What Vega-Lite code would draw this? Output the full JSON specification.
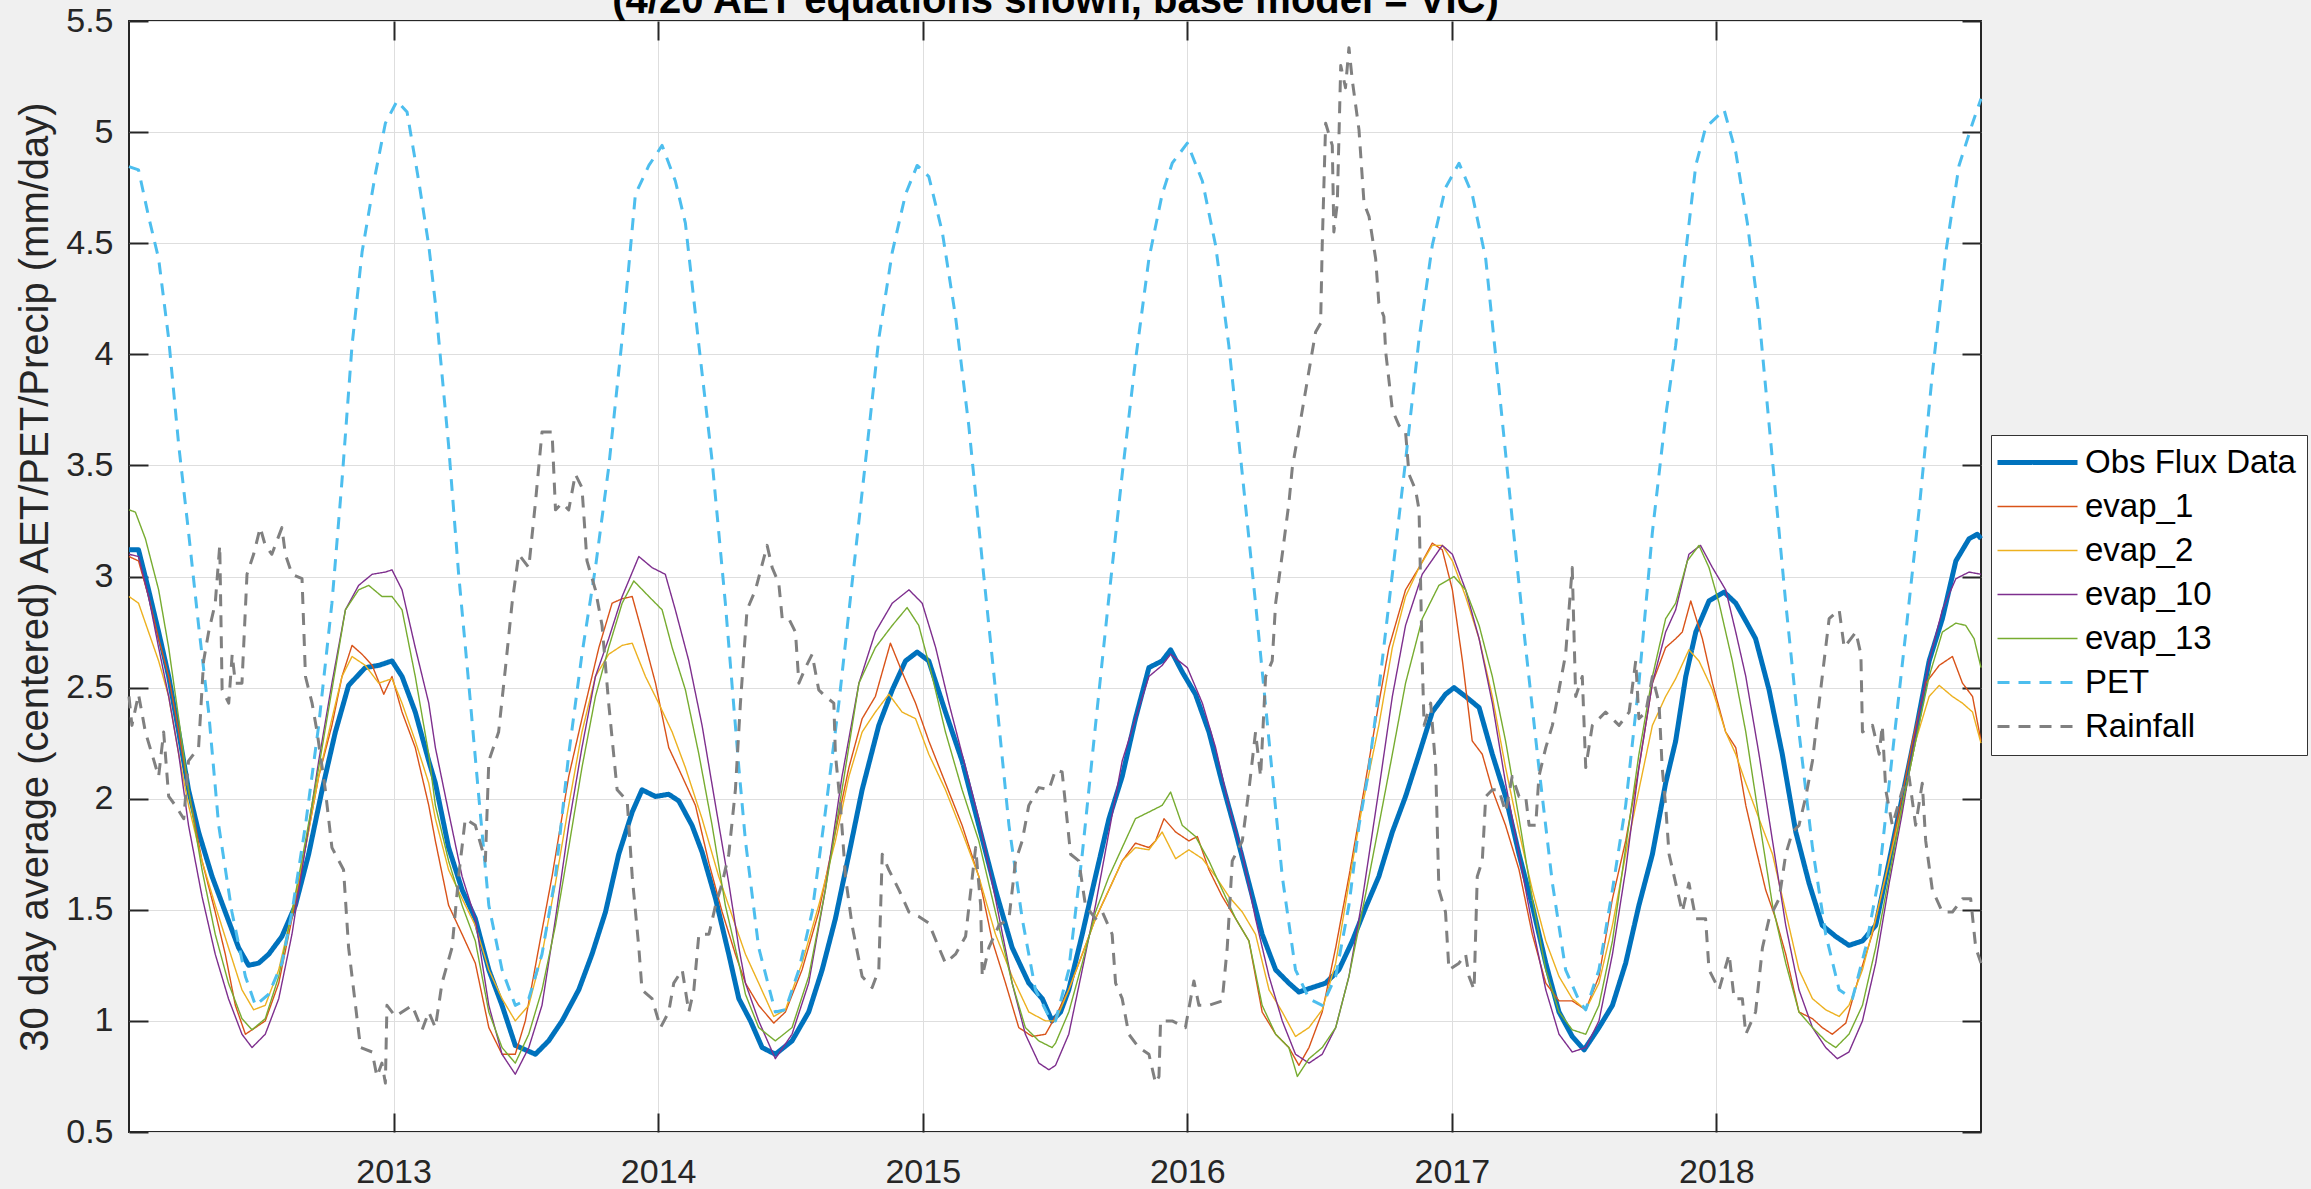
{
"$schema": "https://vega.github.io/schema/vega-lite/v6.json",
"width": 1852, "height": 1111,
"autosize": {"type": "none"},
"padding": {"left": 129, "top": 21, "right": 330, "bottom": 57},
"background": "#f0f0f0",
"config": {
  "view": {"fill": "white", "stroke": "#262626", "strokeWidth": 2},
  "axis": {"labelFont": "Liberation Sans", "labelFontSize": 34, "labelColor": "#262626", "tickColor": "#262626", "tickWidth": 2, "tickSize": -19, "domain": false, "gridColor": "#dedede", "gridWidth": 1, "labelOverlap": false, "labelFlush": false, "titleFont": "Liberation Sans", "titleFontWeight": "normal", "titleColor": "#262626"}
},
"datasets": {
"d": [
{"s":"Obs Flux Data","t":2012.0,"v":3.12},{"s":"Obs Flux Data","t":2012.036,"v":3.12},{"s":"Obs Flux Data","t":2012.074,"v":2.94},{"s":"Obs Flux Data","t":2012.112,"v":2.75},{"s":"Obs Flux Data","t":2012.15,"v":2.55},{"s":"Obs Flux Data","t":2012.188,"v":2.30},{"s":"Obs Flux Data","t":2012.225,"v":2.04},{"s":"Obs Flux Data","t":2012.263,"v":1.85},{"s":"Obs Flux Data","t":2012.314,"v":1.65},{"s":"Obs Flux Data","t":2012.364,"v":1.49},{"s":"Obs Flux Data","t":2012.414,"v":1.33},{"s":"Obs Flux Data","t":2012.452,"v":1.25},{"s":"Obs Flux Data","t":2012.49,"v":1.26},{"s":"Obs Flux Data","t":2012.528,"v":1.30},{"s":"Obs Flux Data","t":2012.578,"v":1.38},{"s":"Obs Flux Data","t":2012.629,"v":1.52},{"s":"Obs Flux Data","t":2012.679,"v":1.75},{"s":"Obs Flux Data","t":2012.73,"v":2.04},{"s":"Obs Flux Data","t":2012.78,"v":2.30},{"s":"Obs Flux Data","t":2012.83,"v":2.51},{"s":"Obs Flux Data","t":2012.893,"v":2.59},{"s":"Obs Flux Data","t":2012.944,"v":2.60},{"s":"Obs Flux Data","t":2012.994,"v":2.62},{"s":"Obs Flux Data","t":2013.032,"v":2.55},{"s":"Obs Flux Data","t":2013.082,"v":2.39},{"s":"Obs Flux Data","t":2013.133,"v":2.17},{"s":"Obs Flux Data","t":2013.158,"v":2.07},{"s":"Obs Flux Data","t":2013.208,"v":1.78},{"s":"Obs Flux Data","t":2013.259,"v":1.59},{"s":"Obs Flux Data","t":2013.309,"v":1.46},{"s":"Obs Flux Data","t":2013.36,"v":1.23},{"s":"Obs Flux Data","t":2013.41,"v":1.07},{"s":"Obs Flux Data","t":2013.46,"v":0.89},{"s":"Obs Flux Data","t":2013.536,"v":0.85},{"s":"Obs Flux Data","t":2013.586,"v":0.91},{"s":"Obs Flux Data","t":2013.637,"v":1.0},{"s":"Obs Flux Data","t":2013.7,"v":1.14},{"s":"Obs Flux Data","t":2013.75,"v":1.30},{"s":"Obs Flux Data","t":2013.801,"v":1.49},{"s":"Obs Flux Data","t":2013.851,"v":1.75},{"s":"Obs Flux Data","t":2013.902,"v":1.94},{"s":"Obs Flux Data","t":2013.939,"v":2.04},{"s":"Obs Flux Data","t":2013.99,"v":2.01},{"s":"Obs Flux Data","t":2014.04,"v":2.02},{"s":"Obs Flux Data","t":2014.078,"v":1.99},{"s":"Obs Flux Data","t":2014.128,"v":1.88},{"s":"Obs Flux Data","t":2014.166,"v":1.76},{"s":"Obs Flux Data","t":2014.217,"v":1.55},{"s":"Obs Flux Data","t":2014.267,"v":1.30},{"s":"Obs Flux Data","t":2014.305,"v":1.10},{"s":"Obs Flux Data","t":2014.349,"v":1.0},{"s":"Obs Flux Data","t":2014.393,"v":0.88},{"s":"Obs Flux Data","t":2014.443,"v":0.85},{"s":"Obs Flux Data","t":2014.506,"v":0.91},{"s":"Obs Flux Data","t":2014.569,"v":1.04},{"s":"Obs Flux Data","t":2014.62,"v":1.23},{"s":"Obs Flux Data","t":2014.67,"v":1.46},{"s":"Obs Flux Data","t":2014.721,"v":1.75},{"s":"Obs Flux Data","t":2014.771,"v":2.04},{"s":"Obs Flux Data","t":2014.834,"v":2.33},{"s":"Obs Flux Data","t":2014.885,"v":2.49},{"s":"Obs Flux Data","t":2014.935,"v":2.62},{"s":"Obs Flux Data","t":2014.979,"v":2.66},{"s":"Obs Flux Data","t":2015.023,"v":2.62},{"s":"Obs Flux Data","t":2015.086,"v":2.39},{"s":"Obs Flux Data","t":2015.149,"v":2.17},{"s":"Obs Flux Data","t":2015.212,"v":1.88},{"s":"Obs Flux Data","t":2015.275,"v":1.59},{"s":"Obs Flux Data","t":2015.338,"v":1.33},{"s":"Obs Flux Data","t":2015.401,"v":1.17},{"s":"Obs Flux Data","t":2015.452,"v":1.10},{"s":"Obs Flux Data","t":2015.489,"v":1.0},{"s":"Obs Flux Data","t":2015.521,"v":1.04},{"s":"Obs Flux Data","t":2015.552,"v":1.14},{"s":"Obs Flux Data","t":2015.603,"v":1.39},{"s":"Obs Flux Data","t":2015.653,"v":1.65},{"s":"Obs Flux Data","t":2015.704,"v":1.91},{"s":"Obs Flux Data","t":2015.754,"v":2.10},{"s":"Obs Flux Data","t":2015.804,"v":2.36},{"s":"Obs Flux Data","t":2015.855,"v":2.59},{"s":"Obs Flux Data","t":2015.905,"v":2.62},{"s":"Obs Flux Data","t":2015.937,"v":2.67},{"s":"Obs Flux Data","t":2015.981,"v":2.57},{"s":"Obs Flux Data","t":2016.031,"v":2.47},{"s":"Obs Flux Data","t":2016.082,"v":2.30},{"s":"Obs Flux Data","t":2016.132,"v":2.07},{"s":"Obs Flux Data","t":2016.183,"v":1.85},{"s":"Obs Flux Data","t":2016.233,"v":1.62},{"s":"Obs Flux Data","t":2016.283,"v":1.39},{"s":"Obs Flux Data","t":2016.334,"v":1.23},{"s":"Obs Flux Data","t":2016.384,"v":1.17},{"s":"Obs Flux Data","t":2016.422,"v":1.13},{"s":"Obs Flux Data","t":2016.472,"v":1.15},{"s":"Obs Flux Data","t":2016.523,"v":1.17},{"s":"Obs Flux Data","t":2016.573,"v":1.23},{"s":"Obs Flux Data","t":2016.624,"v":1.36},{"s":"Obs Flux Data","t":2016.674,"v":1.51},{"s":"Obs Flux Data","t":2016.724,"v":1.65},{"s":"Obs Flux Data","t":2016.775,"v":1.85},{"s":"Obs Flux Data","t":2016.825,"v":2.01},{"s":"Obs Flux Data","t":2016.876,"v":2.20},{"s":"Obs Flux Data","t":2016.926,"v":2.39},{"s":"Obs Flux Data","t":2016.976,"v":2.47},{"s":"Obs Flux Data","t":2017.008,"v":2.50},{"s":"Obs Flux Data","t":2017.052,"v":2.46},{"s":"Obs Flux Data","t":2017.103,"v":2.41},{"s":"Obs Flux Data","t":2017.153,"v":2.20},{"s":"Obs Flux Data","t":2017.203,"v":2.01},{"s":"Obs Flux Data","t":2017.254,"v":1.75},{"s":"Obs Flux Data","t":2017.304,"v":1.52},{"s":"Obs Flux Data","t":2017.355,"v":1.26},{"s":"Obs Flux Data","t":2017.405,"v":1.04},{"s":"Obs Flux Data","t":2017.455,"v":0.93},{"s":"Obs Flux Data","t":2017.5,"v":0.87},{"s":"Obs Flux Data","t":2017.556,"v":0.97},{"s":"Obs Flux Data","t":2017.607,"v":1.07},{"s":"Obs Flux Data","t":2017.657,"v":1.26},{"s":"Obs Flux Data","t":2017.707,"v":1.52},{"s":"Obs Flux Data","t":2017.758,"v":1.75},{"s":"Obs Flux Data","t":2017.808,"v":2.07},{"s":"Obs Flux Data","t":2017.846,"v":2.26},{"s":"Obs Flux Data","t":2017.884,"v":2.55},{"s":"Obs Flux Data","t":2017.922,"v":2.75},{"s":"Obs Flux Data","t":2017.972,"v":2.89},{"s":"Obs Flux Data","t":2018.029,"v":2.93},{"s":"Obs Flux Data","t":2018.073,"v":2.88},{"s":"Obs Flux Data","t":2018.111,"v":2.80},{"s":"Obs Flux Data","t":2018.148,"v":2.72},{"s":"Obs Flux Data","t":2018.199,"v":2.49},{"s":"Obs Flux Data","t":2018.249,"v":2.20},{"s":"Obs Flux Data","t":2018.3,"v":1.85},{"s":"Obs Flux Data","t":2018.35,"v":1.62},{"s":"Obs Flux Data","t":2018.4,"v":1.43},{"s":"Obs Flux Data","t":2018.451,"v":1.38},{"s":"Obs Flux Data","t":2018.501,"v":1.34},{"s":"Obs Flux Data","t":2018.552,"v":1.36},{"s":"Obs Flux Data","t":2018.602,"v":1.43},{"s":"Obs Flux Data","t":2018.653,"v":1.72},{"s":"Obs Flux Data","t":2018.703,"v":2.01},{"s":"Obs Flux Data","t":2018.753,"v":2.30},{"s":"Obs Flux Data","t":2018.804,"v":2.62},{"s":"Obs Flux Data","t":2018.854,"v":2.81},{"s":"Obs Flux Data","t":2018.905,"v":3.07},{"s":"Obs Flux Data","t":2018.955,"v":3.17},{"s":"Obs Flux Data","t":2018.986,"v":3.19},{"s":"Obs Flux Data","t":2019.0,"v":3.17},
{"s":"evap_1","t":2012.0,"v":3.09},{"s":"evap_1","t":2012.036,"v":3.07},{"s":"evap_1","t":2012.074,"v":2.91},{"s":"evap_1","t":2012.112,"v":2.72},{"s":"evap_1","t":2012.15,"v":2.55},{"s":"evap_1","t":2012.188,"v":2.30},{"s":"evap_1","t":2012.225,"v":2.04},{"s":"evap_1","t":2012.276,"v":1.72},{"s":"evap_1","t":2012.326,"v":1.49},{"s":"evap_1","t":2012.364,"v":1.30},{"s":"evap_1","t":2012.402,"v":1.07},{"s":"evap_1","t":2012.44,"v":0.94},{"s":"evap_1","t":2012.478,"v":0.97},{"s":"evap_1","t":2012.515,"v":1.0},{"s":"evap_1","t":2012.566,"v":1.17},{"s":"evap_1","t":2012.616,"v":1.46},{"s":"evap_1","t":2012.667,"v":1.78},{"s":"evap_1","t":2012.717,"v":2.10},{"s":"evap_1","t":2012.767,"v":2.33},{"s":"evap_1","t":2012.805,"v":2.55},{"s":"evap_1","t":2012.843,"v":2.69},{"s":"evap_1","t":2012.881,"v":2.65},{"s":"evap_1","t":2012.919,"v":2.60},{"s":"evap_1","t":2012.963,"v":2.47},{"s":"evap_1","t":2012.994,"v":2.55},{"s":"evap_1","t":2013.032,"v":2.39},{"s":"evap_1","t":2013.082,"v":2.23},{"s":"evap_1","t":2013.133,"v":1.97},{"s":"evap_1","t":2013.158,"v":1.81},{"s":"evap_1","t":2013.208,"v":1.52},{"s":"evap_1","t":2013.259,"v":1.39},{"s":"evap_1","t":2013.309,"v":1.26},{"s":"evap_1","t":2013.36,"v":0.97},{"s":"evap_1","t":2013.41,"v":0.85},{"s":"evap_1","t":2013.46,"v":0.85},{"s":"evap_1","t":2013.498,"v":1.0},{"s":"evap_1","t":2013.549,"v":1.33},{"s":"evap_1","t":2013.599,"v":1.65},{"s":"evap_1","t":2013.662,"v":2.10},{"s":"evap_1","t":2013.712,"v":2.36},{"s":"evap_1","t":2013.776,"v":2.68},{"s":"evap_1","t":2013.826,"v":2.88},{"s":"evap_1","t":2013.864,"v":2.90},{"s":"evap_1","t":2013.902,"v":2.91},{"s":"evap_1","t":2013.939,"v":2.75},{"s":"evap_1","t":2013.99,"v":2.52},{"s":"evap_1","t":2014.04,"v":2.23},{"s":"evap_1","t":2014.091,"v":2.10},{"s":"evap_1","t":2014.141,"v":1.97},{"s":"evap_1","t":2014.192,"v":1.71},{"s":"evap_1","t":2014.242,"v":1.49},{"s":"evap_1","t":2014.292,"v":1.30},{"s":"evap_1","t":2014.33,"v":1.17},{"s":"evap_1","t":2014.38,"v":1.07},{"s":"evap_1","t":2014.437,"v":0.99},{"s":"evap_1","t":2014.481,"v":1.04},{"s":"evap_1","t":2014.544,"v":1.23},{"s":"evap_1","t":2014.607,"v":1.49},{"s":"evap_1","t":2014.67,"v":1.85},{"s":"evap_1","t":2014.721,"v":2.14},{"s":"evap_1","t":2014.771,"v":2.36},{"s":"evap_1","t":2014.821,"v":2.46},{"s":"evap_1","t":2014.859,"v":2.62},{"s":"evap_1","t":2014.878,"v":2.70},{"s":"evap_1","t":2014.922,"v":2.57},{"s":"evap_1","t":2014.973,"v":2.43},{"s":"evap_1","t":2015.023,"v":2.26},{"s":"evap_1","t":2015.086,"v":2.07},{"s":"evap_1","t":2015.149,"v":1.88},{"s":"evap_1","t":2015.212,"v":1.65},{"s":"evap_1","t":2015.263,"v":1.36},{"s":"evap_1","t":2015.313,"v":1.17},{"s":"evap_1","t":2015.363,"v":0.97},{"s":"evap_1","t":2015.414,"v":0.93},{"s":"evap_1","t":2015.464,"v":0.94},{"s":"evap_1","t":2015.502,"v":1.02},{"s":"evap_1","t":2015.552,"v":1.14},{"s":"evap_1","t":2015.603,"v":1.30},{"s":"evap_1","t":2015.653,"v":1.46},{"s":"evap_1","t":2015.704,"v":1.59},{"s":"evap_1","t":2015.754,"v":1.72},{"s":"evap_1","t":2015.804,"v":1.80},{"s":"evap_1","t":2015.855,"v":1.78},{"s":"evap_1","t":2015.88,"v":1.81},{"s":"evap_1","t":2015.912,"v":1.91},{"s":"evap_1","t":2015.956,"v":1.85},{"s":"evap_1","t":2016.006,"v":1.81},{"s":"evap_1","t":2016.038,"v":1.83},{"s":"evap_1","t":2016.082,"v":1.68},{"s":"evap_1","t":2016.132,"v":1.56},{"s":"evap_1","t":2016.183,"v":1.46},{"s":"evap_1","t":2016.233,"v":1.36},{"s":"evap_1","t":2016.283,"v":1.04},{"s":"evap_1","t":2016.334,"v":0.94},{"s":"evap_1","t":2016.384,"v":0.88},{"s":"evap_1","t":2016.422,"v":0.80},{"s":"evap_1","t":2016.46,"v":0.88},{"s":"evap_1","t":2016.51,"v":1.04},{"s":"evap_1","t":2016.561,"v":1.33},{"s":"evap_1","t":2016.611,"v":1.65},{"s":"evap_1","t":2016.668,"v":2.04},{"s":"evap_1","t":2016.724,"v":2.43},{"s":"evap_1","t":2016.762,"v":2.68},{"s":"evap_1","t":2016.825,"v":2.94},{"s":"evap_1","t":2016.876,"v":3.04},{"s":"evap_1","t":2016.926,"v":3.15},{"s":"evap_1","t":2016.964,"v":3.12},{"s":"evap_1","t":2017.002,"v":2.94},{"s":"evap_1","t":2017.04,"v":2.62},{"s":"evap_1","t":2017.077,"v":2.26},{"s":"evap_1","t":2017.115,"v":2.20},{"s":"evap_1","t":2017.153,"v":2.04},{"s":"evap_1","t":2017.203,"v":1.88},{"s":"evap_1","t":2017.254,"v":1.68},{"s":"evap_1","t":2017.304,"v":1.39},{"s":"evap_1","t":2017.355,"v":1.17},{"s":"evap_1","t":2017.405,"v":1.09},{"s":"evap_1","t":2017.455,"v":1.09},{"s":"evap_1","t":2017.506,"v":1.05},{"s":"evap_1","t":2017.556,"v":1.20},{"s":"evap_1","t":2017.607,"v":1.55},{"s":"evap_1","t":2017.657,"v":1.81},{"s":"evap_1","t":2017.707,"v":2.14},{"s":"evap_1","t":2017.758,"v":2.52},{"s":"evap_1","t":2017.808,"v":2.68},{"s":"evap_1","t":2017.846,"v":2.72},{"s":"evap_1","t":2017.871,"v":2.75},{"s":"evap_1","t":2017.903,"v":2.89},{"s":"evap_1","t":2017.947,"v":2.72},{"s":"evap_1","t":2017.985,"v":2.52},{"s":"evap_1","t":2018.035,"v":2.30},{"s":"evap_1","t":2018.073,"v":2.23},{"s":"evap_1","t":2018.111,"v":1.97},{"s":"evap_1","t":2018.148,"v":1.78},{"s":"evap_1","t":2018.186,"v":1.59},{"s":"evap_1","t":2018.224,"v":1.46},{"s":"evap_1","t":2018.262,"v":1.30},{"s":"evap_1","t":2018.312,"v":1.04},{"s":"evap_1","t":2018.363,"v":1.01},{"s":"evap_1","t":2018.4,"v":0.97},{"s":"evap_1","t":2018.438,"v":0.94},{"s":"evap_1","t":2018.489,"v":0.99},{"s":"evap_1","t":2018.539,"v":1.20},{"s":"evap_1","t":2018.589,"v":1.39},{"s":"evap_1","t":2018.64,"v":1.65},{"s":"evap_1","t":2018.69,"v":1.94},{"s":"evap_1","t":2018.741,"v":2.26},{"s":"evap_1","t":2018.791,"v":2.52},{"s":"evap_1","t":2018.842,"v":2.60},{"s":"evap_1","t":2018.892,"v":2.64},{"s":"evap_1","t":2018.93,"v":2.52},{"s":"evap_1","t":2018.968,"v":2.46},{"s":"evap_1","t":2019.0,"v":2.26},
{"s":"evap_2","t":2012.0,"v":2.91},{"s":"evap_2","t":2012.036,"v":2.88},{"s":"evap_2","t":2012.074,"v":2.75},{"s":"evap_2","t":2012.112,"v":2.62},{"s":"evap_2","t":2012.15,"v":2.46},{"s":"evap_2","t":2012.188,"v":2.20},{"s":"evap_2","t":2012.225,"v":1.97},{"s":"evap_2","t":2012.276,"v":1.72},{"s":"evap_2","t":2012.326,"v":1.52},{"s":"evap_2","t":2012.376,"v":1.33},{"s":"evap_2","t":2012.427,"v":1.14},{"s":"evap_2","t":2012.471,"v":1.05},{"s":"evap_2","t":2012.515,"v":1.07},{"s":"evap_2","t":2012.566,"v":1.23},{"s":"evap_2","t":2012.616,"v":1.49},{"s":"evap_2","t":2012.667,"v":1.78},{"s":"evap_2","t":2012.717,"v":2.10},{"s":"evap_2","t":2012.767,"v":2.36},{"s":"evap_2","t":2012.805,"v":2.55},{"s":"evap_2","t":2012.843,"v":2.64},{"s":"evap_2","t":2012.893,"v":2.60},{"s":"evap_2","t":2012.944,"v":2.52},{"s":"evap_2","t":2012.994,"v":2.54},{"s":"evap_2","t":2013.032,"v":2.43},{"s":"evap_2","t":2013.082,"v":2.26},{"s":"evap_2","t":2013.133,"v":2.07},{"s":"evap_2","t":2013.158,"v":1.91},{"s":"evap_2","t":2013.208,"v":1.68},{"s":"evap_2","t":2013.259,"v":1.55},{"s":"evap_2","t":2013.309,"v":1.43},{"s":"evap_2","t":2013.36,"v":1.23},{"s":"evap_2","t":2013.41,"v":1.10},{"s":"evap_2","t":2013.46,"v":1.0},{"s":"evap_2","t":2013.511,"v":1.07},{"s":"evap_2","t":2013.561,"v":1.30},{"s":"evap_2","t":2013.612,"v":1.62},{"s":"evap_2","t":2013.662,"v":1.97},{"s":"evap_2","t":2013.712,"v":2.30},{"s":"evap_2","t":2013.763,"v":2.55},{"s":"evap_2","t":2013.813,"v":2.65},{"s":"evap_2","t":2013.864,"v":2.69},{"s":"evap_2","t":2013.902,"v":2.70},{"s":"evap_2","t":2013.952,"v":2.55},{"s":"evap_2","t":2014.002,"v":2.43},{"s":"evap_2","t":2014.053,"v":2.30},{"s":"evap_2","t":2014.103,"v":2.14},{"s":"evap_2","t":2014.166,"v":1.91},{"s":"evap_2","t":2014.229,"v":1.65},{"s":"evap_2","t":2014.292,"v":1.43},{"s":"evap_2","t":2014.33,"v":1.30},{"s":"evap_2","t":2014.38,"v":1.17},{"s":"evap_2","t":2014.437,"v":1.02},{"s":"evap_2","t":2014.481,"v":1.05},{"s":"evap_2","t":2014.544,"v":1.26},{"s":"evap_2","t":2014.607,"v":1.52},{"s":"evap_2","t":2014.67,"v":1.81},{"s":"evap_2","t":2014.721,"v":2.10},{"s":"evap_2","t":2014.771,"v":2.30},{"s":"evap_2","t":2014.821,"v":2.39},{"s":"evap_2","t":2014.872,"v":2.47},{"s":"evap_2","t":2014.922,"v":2.39},{"s":"evap_2","t":2014.973,"v":2.36},{"s":"evap_2","t":2015.023,"v":2.20},{"s":"evap_2","t":2015.086,"v":2.04},{"s":"evap_2","t":2015.149,"v":1.85},{"s":"evap_2","t":2015.212,"v":1.65},{"s":"evap_2","t":2015.275,"v":1.39},{"s":"evap_2","t":2015.338,"v":1.20},{"s":"evap_2","t":2015.401,"v":1.04},{"s":"evap_2","t":2015.464,"v":1.0},{"s":"evap_2","t":2015.502,"v":1.0},{"s":"evap_2","t":2015.552,"v":1.14},{"s":"evap_2","t":2015.603,"v":1.30},{"s":"evap_2","t":2015.653,"v":1.46},{"s":"evap_2","t":2015.704,"v":1.59},{"s":"evap_2","t":2015.754,"v":1.72},{"s":"evap_2","t":2015.804,"v":1.78},{"s":"evap_2","t":2015.855,"v":1.77},{"s":"evap_2","t":2015.905,"v":1.85},{"s":"evap_2","t":2015.956,"v":1.73},{"s":"evap_2","t":2016.006,"v":1.77},{"s":"evap_2","t":2016.057,"v":1.73},{"s":"evap_2","t":2016.107,"v":1.65},{"s":"evap_2","t":2016.157,"v":1.56},{"s":"evap_2","t":2016.208,"v":1.49},{"s":"evap_2","t":2016.258,"v":1.39},{"s":"evap_2","t":2016.309,"v":1.14},{"s":"evap_2","t":2016.359,"v":1.04},{"s":"evap_2","t":2016.409,"v":0.93},{"s":"evap_2","t":2016.46,"v":0.97},{"s":"evap_2","t":2016.51,"v":1.05},{"s":"evap_2","t":2016.561,"v":1.26},{"s":"evap_2","t":2016.611,"v":1.62},{"s":"evap_2","t":2016.662,"v":1.97},{"s":"evap_2","t":2016.724,"v":2.33},{"s":"evap_2","t":2016.775,"v":2.68},{"s":"evap_2","t":2016.825,"v":2.91},{"s":"evap_2","t":2016.876,"v":3.04},{"s":"evap_2","t":2016.926,"v":3.14},{"s":"evap_2","t":2016.964,"v":3.14},{"s":"evap_2","t":2017.002,"v":3.07},{"s":"evap_2","t":2017.052,"v":2.91},{"s":"evap_2","t":2017.103,"v":2.72},{"s":"evap_2","t":2017.153,"v":2.46},{"s":"evap_2","t":2017.203,"v":2.14},{"s":"evap_2","t":2017.254,"v":1.85},{"s":"evap_2","t":2017.304,"v":1.59},{"s":"evap_2","t":2017.355,"v":1.36},{"s":"evap_2","t":2017.405,"v":1.20},{"s":"evap_2","t":2017.455,"v":1.10},{"s":"evap_2","t":2017.506,"v":1.05},{"s":"evap_2","t":2017.556,"v":1.17},{"s":"evap_2","t":2017.607,"v":1.43},{"s":"evap_2","t":2017.657,"v":1.75},{"s":"evap_2","t":2017.707,"v":2.04},{"s":"evap_2","t":2017.758,"v":2.33},{"s":"evap_2","t":2017.808,"v":2.46},{"s":"evap_2","t":2017.846,"v":2.54},{"s":"evap_2","t":2017.896,"v":2.67},{"s":"evap_2","t":2017.934,"v":2.62},{"s":"evap_2","t":2017.985,"v":2.49},{"s":"evap_2","t":2018.035,"v":2.30},{"s":"evap_2","t":2018.073,"v":2.20},{"s":"evap_2","t":2018.111,"v":2.07},{"s":"evap_2","t":2018.161,"v":1.91},{"s":"evap_2","t":2018.212,"v":1.75},{"s":"evap_2","t":2018.262,"v":1.49},{"s":"evap_2","t":2018.312,"v":1.23},{"s":"evap_2","t":2018.363,"v":1.10},{"s":"evap_2","t":2018.413,"v":1.05},{"s":"evap_2","t":2018.464,"v":1.02},{"s":"evap_2","t":2018.501,"v":1.07},{"s":"evap_2","t":2018.552,"v":1.23},{"s":"evap_2","t":2018.602,"v":1.46},{"s":"evap_2","t":2018.653,"v":1.72},{"s":"evap_2","t":2018.703,"v":1.97},{"s":"evap_2","t":2018.753,"v":2.26},{"s":"evap_2","t":2018.804,"v":2.46},{"s":"evap_2","t":2018.842,"v":2.51},{"s":"evap_2","t":2018.892,"v":2.46},{"s":"evap_2","t":2018.93,"v":2.43},{"s":"evap_2","t":2018.968,"v":2.39},{"s":"evap_2","t":2019.0,"v":2.25},
{"s":"evap_10","t":2012.0,"v":3.10},{"s":"evap_10","t":2012.036,"v":3.09},{"s":"evap_10","t":2012.074,"v":2.91},{"s":"evap_10","t":2012.112,"v":2.68},{"s":"evap_10","t":2012.15,"v":2.46},{"s":"evap_10","t":2012.188,"v":2.20},{"s":"evap_10","t":2012.225,"v":1.88},{"s":"evap_10","t":2012.276,"v":1.56},{"s":"evap_10","t":2012.326,"v":1.30},{"s":"evap_10","t":2012.376,"v":1.10},{"s":"evap_10","t":2012.427,"v":0.94},{"s":"evap_10","t":2012.465,"v":0.88},{"s":"evap_10","t":2012.515,"v":0.94},{"s":"evap_10","t":2012.566,"v":1.10},{"s":"evap_10","t":2012.616,"v":1.39},{"s":"evap_10","t":2012.667,"v":1.78},{"s":"evap_10","t":2012.717,"v":2.17},{"s":"evap_10","t":2012.767,"v":2.52},{"s":"evap_10","t":2012.818,"v":2.85},{"s":"evap_10","t":2012.868,"v":2.96},{"s":"evap_10","t":2012.919,"v":3.01},{"s":"evap_10","t":2012.969,"v":3.02},{"s":"evap_10","t":2012.994,"v":3.03},{"s":"evap_10","t":2013.032,"v":2.94},{"s":"evap_10","t":2013.082,"v":2.68},{"s":"evap_10","t":2013.133,"v":2.43},{"s":"evap_10","t":2013.158,"v":2.23},{"s":"evap_10","t":2013.208,"v":1.94},{"s":"evap_10","t":2013.259,"v":1.65},{"s":"evap_10","t":2013.309,"v":1.46},{"s":"evap_10","t":2013.36,"v":1.07},{"s":"evap_10","t":2013.41,"v":0.85},{"s":"evap_10","t":2013.46,"v":0.76},{"s":"evap_10","t":2013.511,"v":0.88},{"s":"evap_10","t":2013.561,"v":1.07},{"s":"evap_10","t":2013.612,"v":1.46},{"s":"evap_10","t":2013.662,"v":1.88},{"s":"evap_10","t":2013.712,"v":2.23},{"s":"evap_10","t":2013.763,"v":2.55},{"s":"evap_10","t":2013.813,"v":2.72},{"s":"evap_10","t":2013.864,"v":2.91},{"s":"evap_10","t":2013.927,"v":3.09},{"s":"evap_10","t":2013.977,"v":3.04},{"s":"evap_10","t":2014.027,"v":3.01},{"s":"evap_10","t":2014.065,"v":2.85},{"s":"evap_10","t":2014.116,"v":2.62},{"s":"evap_10","t":2014.166,"v":2.33},{"s":"evap_10","t":2014.217,"v":1.97},{"s":"evap_10","t":2014.267,"v":1.62},{"s":"evap_10","t":2014.305,"v":1.33},{"s":"evap_10","t":2014.33,"v":1.17},{"s":"evap_10","t":2014.38,"v":1.0},{"s":"evap_10","t":2014.443,"v":0.83},{"s":"evap_10","t":2014.506,"v":0.94},{"s":"evap_10","t":2014.569,"v":1.17},{"s":"evap_10","t":2014.632,"v":1.59},{"s":"evap_10","t":2014.695,"v":2.10},{"s":"evap_10","t":2014.759,"v":2.52},{"s":"evap_10","t":2014.821,"v":2.75},{"s":"evap_10","t":2014.885,"v":2.88},{"s":"evap_10","t":2014.948,"v":2.94},{"s":"evap_10","t":2014.998,"v":2.88},{"s":"evap_10","t":2015.049,"v":2.68},{"s":"evap_10","t":2015.099,"v":2.43},{"s":"evap_10","t":2015.149,"v":2.20},{"s":"evap_10","t":2015.212,"v":1.91},{"s":"evap_10","t":2015.275,"v":1.55},{"s":"evap_10","t":2015.338,"v":1.17},{"s":"evap_10","t":2015.388,"v":0.94},{"s":"evap_10","t":2015.439,"v":0.81},{"s":"evap_10","t":2015.477,"v":0.78},{"s":"evap_10","t":2015.502,"v":0.80},{"s":"evap_10","t":2015.552,"v":0.94},{"s":"evap_10","t":2015.603,"v":1.23},{"s":"evap_10","t":2015.653,"v":1.52},{"s":"evap_10","t":2015.704,"v":1.85},{"s":"evap_10","t":2015.754,"v":2.17},{"s":"evap_10","t":2015.804,"v":2.36},{"s":"evap_10","t":2015.855,"v":2.55},{"s":"evap_10","t":2015.905,"v":2.60},{"s":"evap_10","t":2015.937,"v":2.65},{"s":"evap_10","t":2016.0,"v":2.59},{"s":"evap_10","t":2016.057,"v":2.43},{"s":"evap_10","t":2016.107,"v":2.23},{"s":"evap_10","t":2016.157,"v":1.97},{"s":"evap_10","t":2016.208,"v":1.75},{"s":"evap_10","t":2016.258,"v":1.46},{"s":"evap_10","t":2016.309,"v":1.20},{"s":"evap_10","t":2016.359,"v":1.0},{"s":"evap_10","t":2016.409,"v":0.85},{"s":"evap_10","t":2016.46,"v":0.81},{"s":"evap_10","t":2016.51,"v":0.85},{"s":"evap_10","t":2016.561,"v":0.97},{"s":"evap_10","t":2016.611,"v":1.20},{"s":"evap_10","t":2016.662,"v":1.55},{"s":"evap_10","t":2016.724,"v":2.04},{"s":"evap_10","t":2016.775,"v":2.46},{"s":"evap_10","t":2016.825,"v":2.78},{"s":"evap_10","t":2016.888,"v":3.01},{"s":"evap_10","t":2016.964,"v":3.14},{"s":"evap_10","t":2017.002,"v":3.10},{"s":"evap_10","t":2017.052,"v":2.94},{"s":"evap_10","t":2017.103,"v":2.72},{"s":"evap_10","t":2017.153,"v":2.43},{"s":"evap_10","t":2017.203,"v":2.07},{"s":"evap_10","t":2017.254,"v":1.75},{"s":"evap_10","t":2017.304,"v":1.43},{"s":"evap_10","t":2017.355,"v":1.14},{"s":"evap_10","t":2017.405,"v":0.94},{"s":"evap_10","t":2017.455,"v":0.86},{"s":"evap_10","t":2017.506,"v":0.88},{"s":"evap_10","t":2017.556,"v":1.0},{"s":"evap_10","t":2017.607,"v":1.30},{"s":"evap_10","t":2017.657,"v":1.68},{"s":"evap_10","t":2017.707,"v":2.14},{"s":"evap_10","t":2017.758,"v":2.52},{"s":"evap_10","t":2017.808,"v":2.75},{"s":"evap_10","t":2017.846,"v":2.85},{"s":"evap_10","t":2017.896,"v":3.10},{"s":"evap_10","t":2017.94,"v":3.14},{"s":"evap_10","t":2017.985,"v":3.04},{"s":"evap_10","t":2018.035,"v":2.94},{"s":"evap_10","t":2018.073,"v":2.75},{"s":"evap_10","t":2018.111,"v":2.55},{"s":"evap_10","t":2018.161,"v":2.20},{"s":"evap_10","t":2018.212,"v":1.81},{"s":"evap_10","t":2018.262,"v":1.43},{"s":"evap_10","t":2018.312,"v":1.14},{"s":"evap_10","t":2018.363,"v":0.97},{"s":"evap_10","t":2018.413,"v":0.88},{"s":"evap_10","t":2018.457,"v":0.83},{"s":"evap_10","t":2018.501,"v":0.86},{"s":"evap_10","t":2018.552,"v":1.0},{"s":"evap_10","t":2018.602,"v":1.26},{"s":"evap_10","t":2018.653,"v":1.62},{"s":"evap_10","t":2018.703,"v":1.94},{"s":"evap_10","t":2018.753,"v":2.30},{"s":"evap_10","t":2018.804,"v":2.62},{"s":"evap_10","t":2018.854,"v":2.85},{"s":"evap_10","t":2018.905,"v":2.99},{"s":"evap_10","t":2018.955,"v":3.02},{"s":"evap_10","t":2019.0,"v":3.01},
{"s":"evap_13","t":2012.0,"v":3.30},{"s":"evap_13","t":2012.024,"v":3.29},{"s":"evap_13","t":2012.062,"v":3.17},{"s":"evap_13","t":2012.112,"v":2.94},{"s":"evap_13","t":2012.15,"v":2.68},{"s":"evap_13","t":2012.188,"v":2.36},{"s":"evap_13","t":2012.225,"v":2.04},{"s":"evap_13","t":2012.276,"v":1.68},{"s":"evap_13","t":2012.326,"v":1.39},{"s":"evap_13","t":2012.376,"v":1.17},{"s":"evap_13","t":2012.427,"v":1.01},{"s":"evap_13","t":2012.465,"v":0.96},{"s":"evap_13","t":2012.515,"v":1.01},{"s":"evap_13","t":2012.566,"v":1.20},{"s":"evap_13","t":2012.616,"v":1.49},{"s":"evap_13","t":2012.667,"v":1.81},{"s":"evap_13","t":2012.717,"v":2.14},{"s":"evap_13","t":2012.767,"v":2.49},{"s":"evap_13","t":2012.818,"v":2.85},{"s":"evap_13","t":2012.868,"v":2.94},{"s":"evap_13","t":2012.906,"v":2.96},{"s":"evap_13","t":2012.956,"v":2.91},{"s":"evap_13","t":2012.994,"v":2.91},{"s":"evap_13","t":2013.032,"v":2.85},{"s":"evap_13","t":2013.082,"v":2.55},{"s":"evap_13","t":2013.133,"v":2.20},{"s":"evap_13","t":2013.158,"v":1.97},{"s":"evap_13","t":2013.208,"v":1.72},{"s":"evap_13","t":2013.259,"v":1.52},{"s":"evap_13","t":2013.309,"v":1.36},{"s":"evap_13","t":2013.36,"v":1.04},{"s":"evap_13","t":2013.41,"v":0.88},{"s":"evap_13","t":2013.46,"v":0.81},{"s":"evap_13","t":2013.511,"v":0.94},{"s":"evap_13","t":2013.561,"v":1.14},{"s":"evap_13","t":2013.612,"v":1.43},{"s":"evap_13","t":2013.662,"v":1.78},{"s":"evap_13","t":2013.712,"v":2.14},{"s":"evap_13","t":2013.763,"v":2.46},{"s":"evap_13","t":2013.813,"v":2.68},{"s":"evap_13","t":2013.864,"v":2.88},{"s":"evap_13","t":2013.908,"v":2.98},{"s":"evap_13","t":2013.965,"v":2.91},{"s":"evap_13","t":2014.015,"v":2.85},{"s":"evap_13","t":2014.053,"v":2.68},{"s":"evap_13","t":2014.103,"v":2.49},{"s":"evap_13","t":2014.154,"v":2.20},{"s":"evap_13","t":2014.204,"v":1.88},{"s":"evap_13","t":2014.254,"v":1.52},{"s":"evap_13","t":2014.305,"v":1.26},{"s":"evap_13","t":2014.33,"v":1.12},{"s":"evap_13","t":2014.38,"v":0.97},{"s":"evap_13","t":2014.443,"v":0.91},{"s":"evap_13","t":2014.506,"v":0.97},{"s":"evap_13","t":2014.569,"v":1.20},{"s":"evap_13","t":2014.632,"v":1.59},{"s":"evap_13","t":2014.695,"v":2.04},{"s":"evap_13","t":2014.759,"v":2.52},{"s":"evap_13","t":2014.821,"v":2.68},{"s":"evap_13","t":2014.885,"v":2.78},{"s":"evap_13","t":2014.941,"v":2.86},{"s":"evap_13","t":2014.985,"v":2.78},{"s":"evap_13","t":2015.036,"v":2.55},{"s":"evap_13","t":2015.086,"v":2.30},{"s":"evap_13","t":2015.149,"v":2.04},{"s":"evap_13","t":2015.212,"v":1.81},{"s":"evap_13","t":2015.275,"v":1.49},{"s":"evap_13","t":2015.338,"v":1.17},{"s":"evap_13","t":2015.388,"v":0.97},{"s":"evap_13","t":2015.439,"v":0.91},{"s":"evap_13","t":2015.489,"v":0.88},{"s":"evap_13","t":2015.502,"v":0.90},{"s":"evap_13","t":2015.552,"v":1.04},{"s":"evap_13","t":2015.603,"v":1.26},{"s":"evap_13","t":2015.653,"v":1.49},{"s":"evap_13","t":2015.704,"v":1.65},{"s":"evap_13","t":2015.754,"v":1.78},{"s":"evap_13","t":2015.804,"v":1.91},{"s":"evap_13","t":2015.855,"v":1.94},{"s":"evap_13","t":2015.905,"v":1.97},{"s":"evap_13","t":2015.937,"v":2.03},{"s":"evap_13","t":2015.981,"v":1.88},{"s":"evap_13","t":2016.031,"v":1.83},{"s":"evap_13","t":2016.082,"v":1.72},{"s":"evap_13","t":2016.132,"v":1.59},{"s":"evap_13","t":2016.183,"v":1.46},{"s":"evap_13","t":2016.233,"v":1.36},{"s":"evap_13","t":2016.283,"v":1.07},{"s":"evap_13","t":2016.334,"v":0.94},{"s":"evap_13","t":2016.384,"v":0.88},{"s":"evap_13","t":2016.416,"v":0.75},{"s":"evap_13","t":2016.46,"v":0.83},{"s":"evap_13","t":2016.51,"v":0.88},{"s":"evap_13","t":2016.561,"v":0.97},{"s":"evap_13","t":2016.611,"v":1.20},{"s":"evap_13","t":2016.674,"v":1.57},{"s":"evap_13","t":2016.724,"v":1.88},{"s":"evap_13","t":2016.775,"v":2.20},{"s":"evap_13","t":2016.825,"v":2.52},{"s":"evap_13","t":2016.888,"v":2.81},{"s":"evap_13","t":2016.951,"v":2.96},{"s":"evap_13","t":2017.008,"v":3.0},{"s":"evap_13","t":2017.052,"v":2.94},{"s":"evap_13","t":2017.103,"v":2.78},{"s":"evap_13","t":2017.153,"v":2.55},{"s":"evap_13","t":2017.203,"v":2.26},{"s":"evap_13","t":2017.254,"v":1.91},{"s":"evap_13","t":2017.304,"v":1.55},{"s":"evap_13","t":2017.355,"v":1.23},{"s":"evap_13","t":2017.405,"v":1.04},{"s":"evap_13","t":2017.455,"v":0.96},{"s":"evap_13","t":2017.506,"v":0.94},{"s":"evap_13","t":2017.556,"v":1.07},{"s":"evap_13","t":2017.607,"v":1.36},{"s":"evap_13","t":2017.657,"v":1.78},{"s":"evap_13","t":2017.707,"v":2.20},{"s":"evap_13","t":2017.758,"v":2.55},{"s":"evap_13","t":2017.808,"v":2.81},{"s":"evap_13","t":2017.846,"v":2.88},{"s":"evap_13","t":2017.89,"v":3.07},{"s":"evap_13","t":2017.934,"v":3.14},{"s":"evap_13","t":2017.972,"v":3.04},{"s":"evap_13","t":2018.01,"v":2.88},{"s":"evap_13","t":2018.06,"v":2.62},{"s":"evap_13","t":2018.111,"v":2.30},{"s":"evap_13","t":2018.161,"v":1.91},{"s":"evap_13","t":2018.212,"v":1.52},{"s":"evap_13","t":2018.262,"v":1.26},{"s":"evap_13","t":2018.312,"v":1.04},{"s":"evap_13","t":2018.363,"v":0.97},{"s":"evap_13","t":2018.413,"v":0.91},{"s":"evap_13","t":2018.451,"v":0.88},{"s":"evap_13","t":2018.501,"v":0.94},{"s":"evap_13","t":2018.552,"v":1.07},{"s":"evap_13","t":2018.602,"v":1.33},{"s":"evap_13","t":2018.653,"v":1.65},{"s":"evap_13","t":2018.703,"v":1.97},{"s":"evap_13","t":2018.753,"v":2.26},{"s":"evap_13","t":2018.804,"v":2.55},{"s":"evap_13","t":2018.854,"v":2.75},{"s":"evap_13","t":2018.905,"v":2.79},{"s":"evap_13","t":2018.942,"v":2.78},{"s":"evap_13","t":2018.974,"v":2.72},{"s":"evap_13","t":2019.0,"v":2.59},
{"s":"PET","t":2012.0,"v":4.845},{"s":"PET","t":2012.036,"v":4.83},{"s":"PET","t":2012.074,"v":4.62},{"s":"PET","t":2012.112,"v":4.43},{"s":"PET","t":2012.15,"v":4.07},{"s":"PET","t":2012.188,"v":3.59},{"s":"PET","t":2012.225,"v":3.20},{"s":"PET","t":2012.263,"v":2.78},{"s":"PET","t":2012.301,"v":2.39},{"s":"PET","t":2012.339,"v":1.88},{"s":"PET","t":2012.389,"v":1.49},{"s":"PET","t":2012.44,"v":1.20},{"s":"PET","t":2012.478,"v":1.07},{"s":"PET","t":2012.528,"v":1.12},{"s":"PET","t":2012.578,"v":1.26},{"s":"PET","t":2012.616,"v":1.49},{"s":"PET","t":2012.667,"v":1.88},{"s":"PET","t":2012.717,"v":2.33},{"s":"PET","t":2012.767,"v":2.88},{"s":"PET","t":2012.805,"v":3.43},{"s":"PET","t":2012.843,"v":4.04},{"s":"PET","t":2012.881,"v":4.46},{"s":"PET","t":2012.931,"v":4.81},{"s":"PET","t":2012.969,"v":5.04},{"s":"PET","t":2013.013,"v":5.14},{"s":"PET","t":2013.051,"v":5.09},{"s":"PET","t":2013.095,"v":4.78},{"s":"PET","t":2013.133,"v":4.49},{"s":"PET","t":2013.158,"v":4.23},{"s":"PET","t":2013.208,"v":3.59},{"s":"PET","t":2013.246,"v":3.01},{"s":"PET","t":2013.284,"v":2.52},{"s":"PET","t":2013.322,"v":2.01},{"s":"PET","t":2013.36,"v":1.52},{"s":"PET","t":2013.41,"v":1.23},{"s":"PET","t":2013.46,"v":1.07},{"s":"PET","t":2013.511,"v":1.10},{"s":"PET","t":2013.561,"v":1.30},{"s":"PET","t":2013.612,"v":1.65},{"s":"PET","t":2013.662,"v":2.20},{"s":"PET","t":2013.712,"v":2.65},{"s":"PET","t":2013.763,"v":3.04},{"s":"PET","t":2013.813,"v":3.49},{"s":"PET","t":2013.864,"v":4.07},{"s":"PET","t":2013.914,"v":4.72},{"s":"PET","t":2013.965,"v":4.85},{"s":"PET","t":2014.015,"v":4.94},{"s":"PET","t":2014.065,"v":4.78},{"s":"PET","t":2014.103,"v":4.59},{"s":"PET","t":2014.154,"v":4.04},{"s":"PET","t":2014.204,"v":3.52},{"s":"PET","t":2014.254,"v":2.88},{"s":"PET","t":2014.305,"v":2.14},{"s":"PET","t":2014.33,"v":1.81},{"s":"PET","t":2014.38,"v":1.33},{"s":"PET","t":2014.443,"v":1.04},{"s":"PET","t":2014.481,"v":1.05},{"s":"PET","t":2014.532,"v":1.23},{"s":"PET","t":2014.582,"v":1.49},{"s":"PET","t":2014.632,"v":1.94},{"s":"PET","t":2014.683,"v":2.43},{"s":"PET","t":2014.733,"v":2.97},{"s":"PET","t":2014.784,"v":3.52},{"s":"PET","t":2014.834,"v":4.07},{"s":"PET","t":2014.885,"v":4.46},{"s":"PET","t":2014.935,"v":4.72},{"s":"PET","t":2014.979,"v":4.85},{"s":"PET","t":2015.023,"v":4.80},{"s":"PET","t":2015.074,"v":4.55},{"s":"PET","t":2015.124,"v":4.17},{"s":"PET","t":2015.174,"v":3.68},{"s":"PET","t":2015.225,"v":3.07},{"s":"PET","t":2015.275,"v":2.49},{"s":"PET","t":2015.326,"v":1.88},{"s":"PET","t":2015.376,"v":1.46},{"s":"PET","t":2015.426,"v":1.14},{"s":"PET","t":2015.477,"v":1.02},{"s":"PET","t":2015.502,"v":1.0},{"s":"PET","t":2015.552,"v":1.23},{"s":"PET","t":2015.603,"v":1.75},{"s":"PET","t":2015.653,"v":2.33},{"s":"PET","t":2015.704,"v":2.91},{"s":"PET","t":2015.754,"v":3.46},{"s":"PET","t":2015.804,"v":3.97},{"s":"PET","t":2015.855,"v":4.43},{"s":"PET","t":2015.905,"v":4.72},{"s":"PET","t":2015.943,"v":4.86},{"s":"PET","t":2016.0,"v":4.95},{"s":"PET","t":2016.057,"v":4.78},{"s":"PET","t":2016.107,"v":4.49},{"s":"PET","t":2016.157,"v":4.04},{"s":"PET","t":2016.208,"v":3.46},{"s":"PET","t":2016.258,"v":2.88},{"s":"PET","t":2016.309,"v":2.26},{"s":"PET","t":2016.359,"v":1.65},{"s":"PET","t":2016.409,"v":1.23},{"s":"PET","t":2016.46,"v":1.10},{"s":"PET","t":2016.51,"v":1.07},{"s":"PET","t":2016.561,"v":1.20},{"s":"PET","t":2016.611,"v":1.52},{"s":"PET","t":2016.649,"v":1.88},{"s":"PET","t":2016.685,"v":2.12},{"s":"PET","t":2016.724,"v":2.49},{"s":"PET","t":2016.775,"v":3.01},{"s":"PET","t":2016.825,"v":3.52},{"s":"PET","t":2016.876,"v":4.07},{"s":"PET","t":2016.926,"v":4.49},{"s":"PET","t":2016.976,"v":4.75},{"s":"PET","t":2017.027,"v":4.86},{"s":"PET","t":2017.077,"v":4.72},{"s":"PET","t":2017.128,"v":4.43},{"s":"PET","t":2017.178,"v":3.85},{"s":"PET","t":2017.228,"v":3.26},{"s":"PET","t":2017.279,"v":2.68},{"s":"PET","t":2017.329,"v":2.14},{"s":"PET","t":2017.38,"v":1.62},{"s":"PET","t":2017.43,"v":1.23},{"s":"PET","t":2017.481,"v":1.09},{"s":"PET","t":2017.506,"v":1.05},{"s":"PET","t":2017.556,"v":1.23},{"s":"PET","t":2017.607,"v":1.59},{"s":"PET","t":2017.657,"v":1.97},{"s":"PET","t":2017.707,"v":2.52},{"s":"PET","t":2017.758,"v":3.20},{"s":"PET","t":2017.808,"v":3.72},{"s":"PET","t":2017.846,"v":4.04},{"s":"PET","t":2017.884,"v":4.46},{"s":"PET","t":2017.922,"v":4.85},{"s":"PET","t":2017.959,"v":5.02},{"s":"PET","t":2018.029,"v":5.10},{"s":"PET","t":2018.073,"v":4.91},{"s":"PET","t":2018.117,"v":4.59},{"s":"PET","t":2018.161,"v":4.17},{"s":"PET","t":2018.212,"v":3.52},{"s":"PET","t":2018.262,"v":2.88},{"s":"PET","t":2018.312,"v":2.30},{"s":"PET","t":2018.363,"v":1.78},{"s":"PET","t":2018.413,"v":1.39},{"s":"PET","t":2018.464,"v":1.14},{"s":"PET","t":2018.514,"v":1.10},{"s":"PET","t":2018.564,"v":1.33},{"s":"PET","t":2018.615,"v":1.65},{"s":"PET","t":2018.665,"v":2.20},{"s":"PET","t":2018.716,"v":2.75},{"s":"PET","t":2018.766,"v":3.30},{"s":"PET","t":2018.816,"v":3.91},{"s":"PET","t":2018.867,"v":4.46},{"s":"PET","t":2018.917,"v":4.85},{"s":"PET","t":2018.968,"v":5.04},{"s":"PET","t":2019.0,"v":5.15},
{"s":"Rainfall","t":2012.0,"v":2.46},{"s":"Rainfall","t":2012.011,"v":2.33},{"s":"Rainfall","t":2012.036,"v":2.47},{"s":"Rainfall","t":2012.062,"v":2.30},{"s":"Rainfall","t":2012.087,"v":2.20},{"s":"Rainfall","t":2012.112,"v":2.10},{"s":"Rainfall","t":2012.131,"v":2.30},{"s":"Rainfall","t":2012.15,"v":2.01},{"s":"Rainfall","t":2012.175,"v":1.97},{"s":"Rainfall","t":2012.207,"v":1.91},{"s":"Rainfall","t":2012.225,"v":2.17},{"s":"Rainfall","t":2012.263,"v":2.23},{"s":"Rainfall","t":2012.282,"v":2.62},{"s":"Rainfall","t":2012.301,"v":2.75},{"s":"Rainfall","t":2012.326,"v":2.88},{"s":"Rainfall","t":2012.343,"v":3.14},{"s":"Rainfall","t":2012.352,"v":2.49},{"s":"Rainfall","t":2012.377,"v":2.43},{"s":"Rainfall","t":2012.39,"v":2.65},{"s":"Rainfall","t":2012.402,"v":2.52},{"s":"Rainfall","t":2012.427,"v":2.52},{"s":"Rainfall","t":2012.446,"v":3.01},{"s":"Rainfall","t":2012.471,"v":3.10},{"s":"Rainfall","t":2012.496,"v":3.22},{"s":"Rainfall","t":2012.515,"v":3.14},{"s":"Rainfall","t":2012.54,"v":3.10},{"s":"Rainfall","t":2012.578,"v":3.22},{"s":"Rainfall","t":2012.591,"v":3.10},{"s":"Rainfall","t":2012.616,"v":3.01},{"s":"Rainfall","t":2012.654,"v":2.99},{"s":"Rainfall","t":2012.667,"v":2.55},{"s":"Rainfall","t":2012.692,"v":2.43},{"s":"Rainfall","t":2012.711,"v":2.30},{"s":"Rainfall","t":2012.742,"v":2.04},{"s":"Rainfall","t":2012.767,"v":1.78},{"s":"Rainfall","t":2012.811,"v":1.68},{"s":"Rainfall","t":2012.83,"v":1.33},{"s":"Rainfall","t":2012.856,"v":1.07},{"s":"Rainfall","t":2012.875,"v":0.88},{"s":"Rainfall","t":2012.919,"v":0.86},{"s":"Rainfall","t":2012.937,"v":0.75},{"s":"Rainfall","t":2012.956,"v":0.81},{"s":"Rainfall","t":2012.969,"v":0.72},{"s":"Rainfall","t":2012.975,"v":1.07},{"s":"Rainfall","t":2013.007,"v":1.02},{"s":"Rainfall","t":2013.032,"v":1.04},{"s":"Rainfall","t":2013.07,"v":1.07},{"s":"Rainfall","t":2013.108,"v":0.96},{"s":"Rainfall","t":2013.133,"v":1.04},{"s":"Rainfall","t":2013.158,"v":0.97},{"s":"Rainfall","t":2013.183,"v":1.17},{"s":"Rainfall","t":2013.221,"v":1.33},{"s":"Rainfall","t":2013.246,"v":1.65},{"s":"Rainfall","t":2013.271,"v":1.91},{"s":"Rainfall","t":2013.309,"v":1.88},{"s":"Rainfall","t":2013.347,"v":1.72},{"s":"Rainfall","t":2013.36,"v":2.17},{"s":"Rainfall","t":2013.397,"v":2.30},{"s":"Rainfall","t":2013.423,"v":2.59},{"s":"Rainfall","t":2013.448,"v":2.88},{"s":"Rainfall","t":2013.473,"v":3.10},{"s":"Rainfall","t":2013.511,"v":3.04},{"s":"Rainfall","t":2013.536,"v":3.33},{"s":"Rainfall","t":2013.561,"v":3.65},{"s":"Rainfall","t":2013.599,"v":3.65},{"s":"Rainfall","t":2013.612,"v":3.30},{"s":"Rainfall","t":2013.637,"v":3.33},{"s":"Rainfall","t":2013.662,"v":3.30},{"s":"Rainfall","t":2013.687,"v":3.46},{"s":"Rainfall","t":2013.712,"v":3.40},{"s":"Rainfall","t":2013.731,"v":3.07},{"s":"Rainfall","t":2013.763,"v":2.94},{"s":"Rainfall","t":2013.788,"v":2.78},{"s":"Rainfall","t":2013.813,"v":2.43},{"s":"Rainfall","t":2013.845,"v":2.04},{"s":"Rainfall","t":2013.883,"v":1.99},{"s":"Rainfall","t":2013.902,"v":1.65},{"s":"Rainfall","t":2013.927,"v":1.33},{"s":"Rainfall","t":2013.939,"v":1.14},{"s":"Rainfall","t":2013.977,"v":1.10},{"s":"Rainfall","t":2014.009,"v":0.97},{"s":"Rainfall","t":2014.04,"v":1.04},{"s":"Rainfall","t":2014.059,"v":1.17},{"s":"Rainfall","t":2014.091,"v":1.23},{"s":"Rainfall","t":2014.116,"v":1.04},{"s":"Rainfall","t":2014.135,"v":1.14},{"s":"Rainfall","t":2014.154,"v":1.39},{"s":"Rainfall","t":2014.192,"v":1.39},{"s":"Rainfall","t":2014.217,"v":1.52},{"s":"Rainfall","t":2014.242,"v":1.62},{"s":"Rainfall","t":2014.267,"v":1.75},{"s":"Rainfall","t":2014.292,"v":2.04},{"s":"Rainfall","t":2014.311,"v":2.43},{"s":"Rainfall","t":2014.336,"v":2.85},{"s":"Rainfall","t":2014.368,"v":2.94},{"s":"Rainfall","t":2014.412,"v":3.14},{"s":"Rainfall","t":2014.431,"v":3.04},{"s":"Rainfall","t":2014.456,"v":2.97},{"s":"Rainfall","t":2014.469,"v":2.81},{"s":"Rainfall","t":2014.494,"v":2.81},{"s":"Rainfall","t":2014.519,"v":2.75},{"s":"Rainfall","t":2014.532,"v":2.52},{"s":"Rainfall","t":2014.557,"v":2.59},{"s":"Rainfall","t":2014.582,"v":2.65},{"s":"Rainfall","t":2014.607,"v":2.49},{"s":"Rainfall","t":2014.632,"v":2.46},{"s":"Rainfall","t":2014.664,"v":2.43},{"s":"Rainfall","t":2014.67,"v":2.20},{"s":"Rainfall","t":2014.689,"v":1.97},{"s":"Rainfall","t":2014.708,"v":1.65},{"s":"Rainfall","t":2014.733,"v":1.43},{"s":"Rainfall","t":2014.771,"v":1.20},{"s":"Rainfall","t":2014.809,"v":1.15},{"s":"Rainfall","t":2014.834,"v":1.23},{"s":"Rainfall","t":2014.847,"v":1.75},{"s":"Rainfall","t":2014.872,"v":1.68},{"s":"Rainfall","t":2014.91,"v":1.59},{"s":"Rainfall","t":2014.948,"v":1.49},{"s":"Rainfall","t":2014.985,"v":1.47},{"s":"Rainfall","t":2015.023,"v":1.44},{"s":"Rainfall","t":2015.061,"v":1.33},{"s":"Rainfall","t":2015.086,"v":1.26},{"s":"Rainfall","t":2015.124,"v":1.30},{"s":"Rainfall","t":2015.162,"v":1.38},{"s":"Rainfall","t":2015.2,"v":1.78},{"s":"Rainfall","t":2015.219,"v":1.52},{"s":"Rainfall","t":2015.225,"v":1.20},{"s":"Rainfall","t":2015.25,"v":1.33},{"s":"Rainfall","t":2015.288,"v":1.43},{"s":"Rainfall","t":2015.326,"v":1.46},{"s":"Rainfall","t":2015.351,"v":1.72},{"s":"Rainfall","t":2015.376,"v":1.81},{"s":"Rainfall","t":2015.401,"v":1.97},{"s":"Rainfall","t":2015.439,"v":2.05},{"s":"Rainfall","t":2015.477,"v":2.04},{"s":"Rainfall","t":2015.502,"v":2.13},{"s":"Rainfall","t":2015.527,"v":2.12},{"s":"Rainfall","t":2015.54,"v":1.97},{"s":"Rainfall","t":2015.559,"v":1.75},{"s":"Rainfall","t":2015.59,"v":1.72},{"s":"Rainfall","t":2015.615,"v":1.52},{"s":"Rainfall","t":2015.653,"v":1.46},{"s":"Rainfall","t":2015.679,"v":1.49},{"s":"Rainfall","t":2015.716,"v":1.39},{"s":"Rainfall","t":2015.729,"v":1.17},{"s":"Rainfall","t":2015.754,"v":1.10},{"s":"Rainfall","t":2015.779,"v":0.94},{"s":"Rainfall","t":2015.817,"v":0.88},{"s":"Rainfall","t":2015.855,"v":0.85},{"s":"Rainfall","t":2015.88,"v":0.72},{"s":"Rainfall","t":2015.893,"v":0.75},{"s":"Rainfall","t":2015.899,"v":1.0},{"s":"Rainfall","t":2015.943,"v":1.0},{"s":"Rainfall","t":2015.993,"v":0.97},{"s":"Rainfall","t":2016.025,"v":1.18},{"s":"Rainfall","t":2016.044,"v":1.07},{"s":"Rainfall","t":2016.082,"v":1.07},{"s":"Rainfall","t":2016.132,"v":1.09},{"s":"Rainfall","t":2016.151,"v":1.33},{"s":"Rainfall","t":2016.17,"v":1.72},{"s":"Rainfall","t":2016.208,"v":1.81},{"s":"Rainfall","t":2016.233,"v":2.04},{"s":"Rainfall","t":2016.258,"v":2.30},{"s":"Rainfall","t":2016.277,"v":2.10},{"s":"Rainfall","t":2016.296,"v":2.55},{"s":"Rainfall","t":2016.321,"v":2.62},{"s":"Rainfall","t":2016.334,"v":2.88},{"s":"Rainfall","t":2016.359,"v":3.10},{"s":"Rainfall","t":2016.384,"v":3.33},{"s":"Rainfall","t":2016.397,"v":3.49},{"s":"Rainfall","t":2016.435,"v":3.75},{"s":"Rainfall","t":2016.472,"v":4.01},{"s":"Rainfall","t":2016.485,"v":4.10},{"s":"Rainfall","t":2016.504,"v":4.14},{"s":"Rainfall","t":2016.51,"v":4.49},{"s":"Rainfall","t":2016.523,"v":5.04},{"s":"Rainfall","t":2016.548,"v":4.94},{"s":"Rainfall","t":2016.554,"v":4.55},{"s":"Rainfall","t":2016.567,"v":4.68},{"s":"Rainfall","t":2016.58,"v":5.30},{"s":"Rainfall","t":2016.598,"v":5.20},{"s":"Rainfall","t":2016.611,"v":5.38},{"s":"Rainfall","t":2016.624,"v":5.23},{"s":"Rainfall","t":2016.649,"v":5.01},{"s":"Rainfall","t":2016.668,"v":4.68},{"s":"Rainfall","t":2016.687,"v":4.62},{"s":"Rainfall","t":2016.712,"v":4.43},{"s":"Rainfall","t":2016.724,"v":4.23},{"s":"Rainfall","t":2016.743,"v":4.17},{"s":"Rainfall","t":2016.75,"v":4.01},{"s":"Rainfall","t":2016.775,"v":3.75},{"s":"Rainfall","t":2016.8,"v":3.68},{"s":"Rainfall","t":2016.825,"v":3.65},{"s":"Rainfall","t":2016.838,"v":3.46},{"s":"Rainfall","t":2016.863,"v":3.39},{"s":"Rainfall","t":2016.876,"v":3.30},{"s":"Rainfall","t":2016.888,"v":2.62},{"s":"Rainfall","t":2016.895,"v":2.33},{"s":"Rainfall","t":2016.92,"v":2.43},{"s":"Rainfall","t":2016.939,"v":2.14},{"s":"Rainfall","t":2016.951,"v":1.59},{"s":"Rainfall","t":2016.976,"v":1.49},{"s":"Rainfall","t":2016.989,"v":1.23},{"s":"Rainfall","t":2017.027,"v":1.26},{"s":"Rainfall","t":2017.052,"v":1.30},{"s":"Rainfall","t":2017.065,"v":1.20},{"s":"Rainfall","t":2017.084,"v":1.14},{"s":"Rainfall","t":2017.096,"v":1.65},{"s":"Rainfall","t":2017.115,"v":1.72},{"s":"Rainfall","t":2017.128,"v":2.01},{"s":"Rainfall","t":2017.153,"v":2.04},{"s":"Rainfall","t":2017.178,"v":2.04},{"s":"Rainfall","t":2017.203,"v":1.94},{"s":"Rainfall","t":2017.228,"v":2.10},{"s":"Rainfall","t":2017.254,"v":2.01},{"s":"Rainfall","t":2017.279,"v":2.01},{"s":"Rainfall","t":2017.292,"v":1.88},{"s":"Rainfall","t":2017.317,"v":1.88},{"s":"Rainfall","t":2017.329,"v":2.10},{"s":"Rainfall","t":2017.355,"v":2.23},{"s":"Rainfall","t":2017.38,"v":2.33},{"s":"Rainfall","t":2017.405,"v":2.49},{"s":"Rainfall","t":2017.43,"v":2.65},{"s":"Rainfall","t":2017.455,"v":3.04},{"s":"Rainfall","t":2017.468,"v":2.46},{"s":"Rainfall","t":2017.493,"v":2.55},{"s":"Rainfall","t":2017.506,"v":2.14},{"s":"Rainfall","t":2017.531,"v":2.33},{"s":"Rainfall","t":2017.581,"v":2.39},{"s":"Rainfall","t":2017.632,"v":2.33},{"s":"Rainfall","t":2017.67,"v":2.39},{"s":"Rainfall","t":2017.695,"v":2.62},{"s":"Rainfall","t":2017.707,"v":2.36},{"s":"Rainfall","t":2017.733,"v":2.39},{"s":"Rainfall","t":2017.758,"v":2.55},{"s":"Rainfall","t":2017.783,"v":2.43},{"s":"Rainfall","t":2017.795,"v":2.14},{"s":"Rainfall","t":2017.808,"v":1.97},{"s":"Rainfall","t":2017.821,"v":1.75},{"s":"Rainfall","t":2017.846,"v":1.62},{"s":"Rainfall","t":2017.871,"v":1.49},{"s":"Rainfall","t":2017.896,"v":1.62},{"s":"Rainfall","t":2017.922,"v":1.46},{"s":"Rainfall","t":2017.959,"v":1.46},{"s":"Rainfall","t":2017.972,"v":1.23},{"s":"Rainfall","t":2018.01,"v":1.14},{"s":"Rainfall","t":2018.048,"v":1.30},{"s":"Rainfall","t":2018.067,"v":1.10},{"s":"Rainfall","t":2018.098,"v":1.10},{"s":"Rainfall","t":2018.111,"v":0.94},{"s":"Rainfall","t":2018.148,"v":1.04},{"s":"Rainfall","t":2018.174,"v":1.33},{"s":"Rainfall","t":2018.199,"v":1.46},{"s":"Rainfall","t":2018.237,"v":1.55},{"s":"Rainfall","t":2018.262,"v":1.75},{"s":"Rainfall","t":2018.287,"v":1.85},{"s":"Rainfall","t":2018.312,"v":1.88},{"s":"Rainfall","t":2018.338,"v":2.01},{"s":"Rainfall","t":2018.363,"v":2.17},{"s":"Rainfall","t":2018.388,"v":2.43},{"s":"Rainfall","t":2018.413,"v":2.68},{"s":"Rainfall","t":2018.426,"v":2.81},{"s":"Rainfall","t":2018.464,"v":2.85},{"s":"Rainfall","t":2018.483,"v":2.68},{"s":"Rainfall","t":2018.527,"v":2.75},{"s":"Rainfall","t":2018.546,"v":2.65},{"s":"Rainfall","t":2018.552,"v":2.30},{"s":"Rainfall","t":2018.59,"v":2.33},{"s":"Rainfall","t":2018.615,"v":2.20},{"s":"Rainfall","t":2018.627,"v":2.33},{"s":"Rainfall","t":2018.64,"v":2.04},{"s":"Rainfall","t":2018.665,"v":1.88},{"s":"Rainfall","t":2018.703,"v":2.04},{"s":"Rainfall","t":2018.728,"v":2.10},{"s":"Rainfall","t":2018.753,"v":1.88},{"s":"Rainfall","t":2018.778,"v":2.07},{"s":"Rainfall","t":2018.791,"v":1.81},{"s":"Rainfall","t":2018.816,"v":1.59},{"s":"Rainfall","t":2018.854,"v":1.49},{"s":"Rainfall","t":2018.892,"v":1.49},{"s":"Rainfall","t":2018.93,"v":1.55},{"s":"Rainfall","t":2018.961,"v":1.55},{"s":"Rainfall","t":2018.98,"v":1.33},{"s":"Rainfall","t":2019.0,"v":1.26}
]
},
"data": {"name": "d"},
"layer": [
  {
    "mark": {"type": "line", "strokeJoin": "round"},
    "encoding": {
      "x": {"field": "t", "type": "quantitative", "scale": {"domain": [2012, 2019], "nice": false, "zero": false},
            "axis": {"orient": "bottom", "values": [2013, 2014, 2015, 2016, 2017, 2018], "format": "d", "grid": true, "title": null, "labelPadding": 42}},
      "y": {"field": "v", "type": "quantitative", "scale": {"domain": [0.5, 5.5], "nice": false, "zero": false},
            "axis": {"orient": "left", "values": [0.5, 1, 1.5, 2, 2.5, 3, 3.5, 4, 4.5, 5, 5.5], "format": "~g", "grid": true, "labelPadding": 35,
                     "title": "30 day average (centered) AET/PET/Precip (mm/day)", "titleFontSize": 40, "titleX": -94, "titleBaseline": "middle"}},
      "color": {"field": "s", "type": "nominal",
        "scale": {"domain": ["Obs Flux Data", "evap_1", "evap_2", "evap_10", "evap_13", "PET", "Rainfall"],
                  "range": ["#0072BD", "#D95319", "#EDB120", "#7E2F8E", "#77AC30", "#4DBEEE", "#808080"]},
        "legend": {"orient": "none", "legendX": 1862, "legendY": 414, "title": null, "labelFont": "Liberation Sans", "labelFontSize": 33, "labelColor": "#000000",
                   "symbolType": "M-4,0H4", "symbolSize": 400, "symbolOffset": 19, "strokeColor": "#333333", "fillColor": "#ffffff", "padding": 11, "rowPadding": 10, "labelOffset": 31, "labelLimit": 0, "cornerRadius": 0}},
      "strokeDash": {"field": "s", "type": "nominal",
        "scale": {"type": "ordinal", "domain": ["Obs Flux Data", "evap_1", "evap_2", "evap_10", "evap_13", "PET", "Rainfall"],
                  "range": [[1, 0], [1, 0], [1, 0], [1, 0], [1, 0], [12, 9], [12, 9]]}},
      "strokeWidth": {"field": "s", "type": "nominal",
        "scale": {"type": "ordinal", "domain": ["Obs Flux Data", "evap_1", "evap_2", "evap_10", "evap_13", "PET", "Rainfall"],
                  "range": [5, 1.4, 1.4, 1.4, 1.4, 3, 3]}}
    }
  },
  {
    "transform": [{"filter": "false"}],
    "mark": {"type": "line"},
    "encoding": {
      "x": {"field": "t", "type": "quantitative", "scale": {"domain": [2012, 2019], "nice": false, "zero": false},
            "axis": {"orient": "top", "values": [2013, 2014, 2015, 2016, 2017, 2018], "labels": false, "grid": false,
                     "title": "(4/20 AET equations shown, base model = VIC)", "titleFontSize": 40, "titleFontWeight": "bold", "titleColor": "#000000", "titleY": -8.5, "titleBaseline": "alphabetic"}},
      "y": {"field": "v", "type": "quantitative", "scale": {"domain": [0.5, 5.5], "nice": false, "zero": false},
            "axis": {"orient": "right", "values": [0.5, 1, 1.5, 2, 2.5, 3, 3.5, 4, 4.5, 5, 5.5], "labels": false, "grid": false, "title": null}}
    }
  }
]
}
